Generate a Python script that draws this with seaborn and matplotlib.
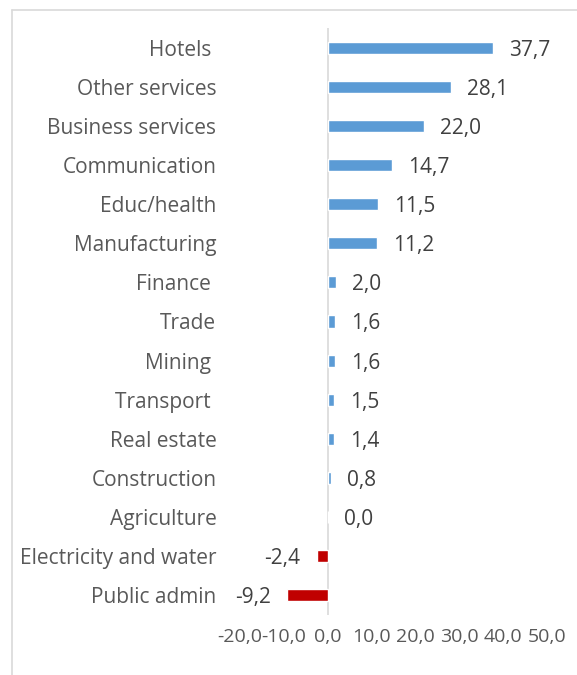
import matplotlib
matplotlib.use("Agg")
import matplotlib.pyplot as plt
from matplotlib.lines import Line2D
import seaborn as sns
import pandas as pd

categories = ["Hotels ", "Other services", "Business services", "Communication",
              "Educ/health", "Manufacturing", "Finance ", "Trade", "Mining ",
              "Transport ", "Real estate", "Construction", "Agriculture",
              "Electricity and water", "Public admin"]
values = [37.7, 28.1, 22.0, 14.7, 11.5, 11.2, 2.0, 1.6, 1.6, 1.5, 1.4, 0.8, 0.0, -2.4, -9.2]
x_ticks = [-20, -10, 0, 10, 20, 30, 40, 50]

df = pd.DataFrame({"category": categories, "value": values})
df["sign"] = ["neg" if v < 0 else "pos" for v in values]

sns.set_theme(style="white")
plt.rcParams["font.family"] = ["Open Sans", "DejaVu Sans"]

fig = plt.figure(figsize=(5.77, 6.75), dpi=100)
ax = fig.add_axes([240 / 577, 1 - 615 / 675, (547 - 240) / 577, (615 - 28) / 675])

sns.barplot(data=df, x="value", y="category", hue="sign",
            palette={"pos": "#5B9BD5", "neg": "#C00000"},
            width=0.31, dodge=False, legend=False, ax=ax, saturation=1)

ax.set_xlim(-20, 50)
ax.set_ylim(len(categories) - 0.5, -0.5)
ax.set_xticks(x_ticks)
ax.set_xticklabels([f"{t:.1f}".replace(".", ",") for t in x_ticks])
ax.set_xlabel("")
ax.set_ylabel("")
for s in ax.spines.values():
    s.set_visible(False)
ax.axvline(0, color="#d9d9d9", lw=1.2, zorder=0)
ax.tick_params(axis="x", length=0, pad=9.5, labelsize=14, labelcolor="#595959")
ax.tick_params(axis="y", length=0, pad=17, labelsize=15, labelcolor="#595959")

for i, v in enumerate(values):
    lab = f"{v:.1f}".replace(".", ",")
    if v < 0:
        ax.annotate(lab, (v, i), xytext=(-12, 0), textcoords="offset points",
                    ha="right", va="center_baseline", fontsize=15, color="#404040")
    else:
        ax.annotate(lab, (v, i), xytext=(11.5, 0), textcoords="offset points",
                    ha="left", va="center_baseline", fontsize=15, color="#404040")

fig.add_artist(Line2D([12 / 577, 12 / 577], [0, 1 - 10 / 675], transform=fig.transFigure,
                      color="#d9d9d9", lw=1.2))
fig.add_artist(Line2D([12 / 577, 1], [1 - 10 / 675, 1 - 10 / 675], transform=fig.transFigure,
                      color="#d9d9d9", lw=1.2))

fig.savefig("out.png", dpi=100)
